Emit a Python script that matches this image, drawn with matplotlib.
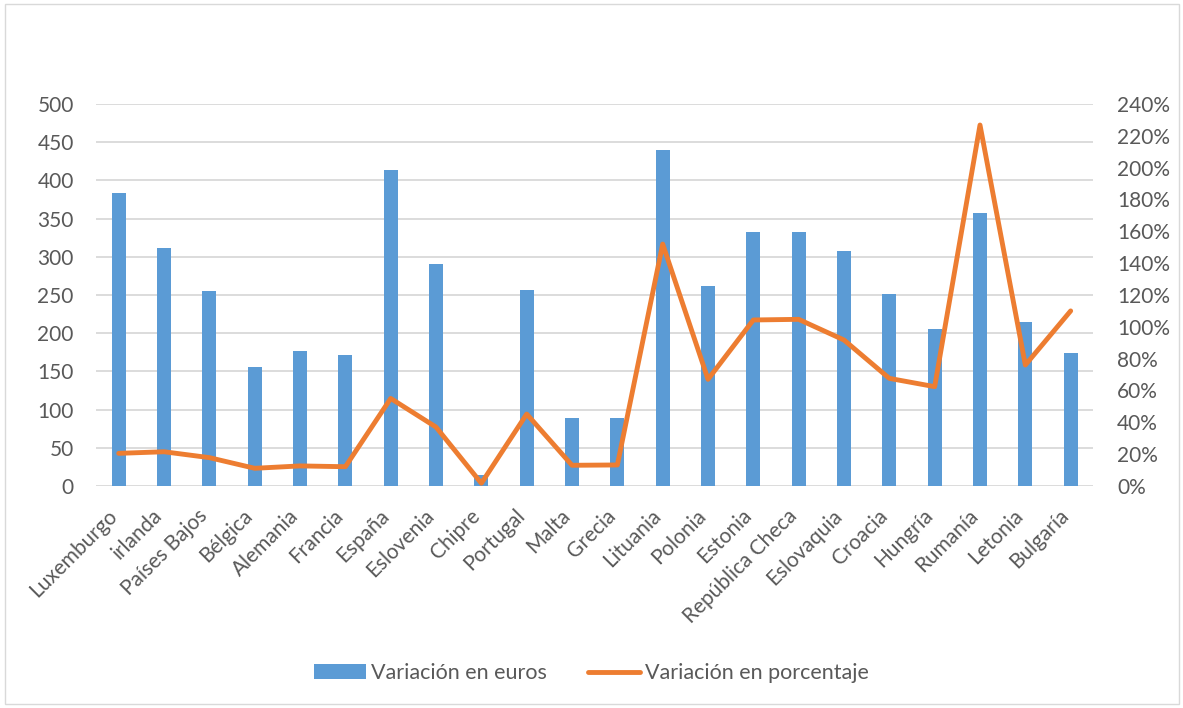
import numpy as np
import matplotlib.pyplot as plt
from matplotlib.patches import Rectangle
from matplotlib.ticker import FuncFormatter
from matplotlib.transforms import ScaledTranslation

plt.rcParams['font.family'] = ['Lato', 'DejaVu Sans']

# Data
paises = ["Luxemburgo", "irlanda", "Países Bajos", "Bélgica", "Alemania", "Francia",
          "España", "Eslovenia", "Chipre", "Portugal", "Malta", "Grecia", "Lituania",
          "Polonia", "Estonia", "República Checa", "Eslovaquia", "Croacia", "Hungría",
          "Rumanía", "Letonia", "Bulgaría"]
var_euros = [383, 312, 255, 156, 177, 172, 414, 290, 14, 256, 89, 89, 440,
             262, 333, 333, 308, 251, 206, 357, 215, 174]
var_pct = [0.205, 0.215, 0.178, 0.111, 0.126, 0.121, 0.55, 0.37, 0.017, 0.452, 0.13,
           0.132, 1.52, 0.67, 1.043, 1.047, 0.917, 0.676, 0.624, 2.268, 0.76, 1.10]

grey = "#595959"
x = np.arange(len(paises))

fig = plt.figure(figsize=(11.83, 7.08), dpi=100)
ax = fig.add_axes([0.0812, 0.3136, 0.843, 0.5395])
ax2 = ax.twinx()

ax.bar(x, var_euros, width=0.31, color="#5b9bd5", label="Variación en euros")
ax2.plot(x, var_pct, color="#ed7d31", lw=3.5, solid_capstyle="round",
         solid_joinstyle="round", label="Variación en porcentaje")

ax.set_xlim(-0.5, len(paises) - 0.5)
ax.set_ylim(0, 500)
ax.set_yticks(np.arange(0, 501, 50))
ax2.set_ylim(0, 2.4)
ax2.set_yticks(np.arange(0, 2.41, 0.2))
ax2.yaxis.set_major_formatter(FuncFormatter(lambda v, p: f"{v*100:.0f}%"))

ax.set_axisbelow(True)
ax.grid(axis="y", color="#d9d9d9", lw=1.3)
for a in (ax, ax2):
    for s in a.spines.values():
        s.set_visible(False)
    a.tick_params(length=0, labelsize=15, labelcolor=grey)
ax.tick_params(axis="y", pad=16)
ax2.tick_params(axis="y", pad=17)

ax.set_xticks(x)
ax.set_xticklabels(paises, rotation=45, ha="right", rotation_mode="anchor")
ax.tick_params(axis="x", pad=14)
shift = ScaledTranslation(-0.12, 0, fig.dpi_scale_trans)
for lab in ax.get_xticklabels():
    lab.set_transform(lab.get_transform() + shift)

h1, l1 = ax.get_legend_handles_labels()
h2, l2 = ax2.get_legend_handles_labels()
fig.legend(h1 + h2, l1 + l2, loc="center", bbox_to_anchor=(0.5, 0.049), ncol=2,
           frameon=False, fontsize=15.5, labelcolor=grey, handlelength=2.4,
           handleheight=0.7, handletextpad=0.25, columnspacing=1.9)

fig.patches.append(Rectangle((0.004, 0.006), 0.993, 0.988, transform=fig.transFigure,
                             fill=False, edgecolor="#d9d9d9", lw=1))

plt.savefig("out.png", dpi=100)
